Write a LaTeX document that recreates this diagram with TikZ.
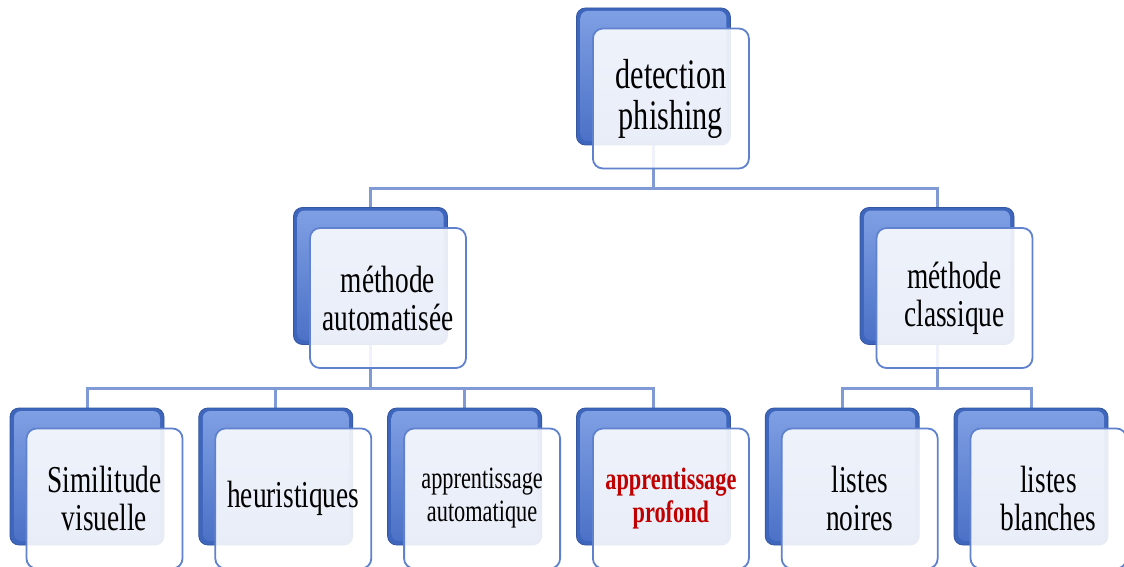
\documentclass[tikz,border=0pt]{standalone}
\usepackage{fontspec}
\newfontfamily\cond[FakeStretch=0.72]{Liberation Serif}
\usetikzlibrary{calc}
\definecolor{bblue}{RGB}{62,102,188}
\definecolor{blight}{RGB}{128,160,228}
\definecolor{bmid}{RGB}{74,112,198}
\definecolor{fborder}{RGB}{96,130,206}
\definecolor{connc}{RGB}{128,154,214}
\definecolor{redtxt}{RGB}{192,0,0}
\pgfdeclarelayer{bg}
\pgfsetlayers{bg,main}
\tikzset{
  backbox/.style={rectangle, rounded corners=9pt, minimum width=154pt, minimum height=137pt,
    inner sep=0pt, fill=bblue, draw=bblue!85!black, line width=0.8pt,
    path picture={\fill[rounded corners=7pt, top color=blight, bottom color=bmid]
      ([xshift=4pt,yshift=-3pt]path picture bounding box.north west) rectangle
      ([xshift=-4pt,yshift=4pt]path picture bounding box.south east);}},
  frontbox/.style={rectangle, rounded corners=10pt, minimum width=156pt, minimum height=140pt,
    inner sep=0pt, draw=fborder, line width=1.8pt, fill=white, fill opacity=0.88,
    text opacity=1, align=center, text=black},
  bigtxt/.style={font=\cond\fontsize{42}{41}\selectfont},
  midtxt/.style={font=\cond\fontsize{38}{38}\selectfont},
  smalltxt/.style={font=\cond\fontsize{31}{33}\selectfont},
  conn/.style={draw=connc, line width=3pt},
}
\begin{document}
\begin{tikzpicture}[x=1pt,y=-1pt]
\useasboundingbox (0,0) rectangle (1124,567);
% back boxes
\node[backbox] (topb) at (653.4,76.5) {};
\node[backbox] (mab) at (370.5,276) {};
\node[backbox] (mcb) at (937,276) {};
\node[backbox] (b1b) at (87,476.5) {};
\node[backbox] (b2b) at (275.8,476.5) {};
\node[backbox] (b3b) at (464.6,476.5) {};
\node[backbox] (b4b) at (653.4,476.5) {};
\node[backbox] (b5b) at (842.2,476.5) {};
\node[backbox] (b6b) at (1031,476.5) {};
% front boxes
\node[frontbox, bigtxt] (top) at ($(topb)+(17.5,22)$) {detection\\phishing};
\node[frontbox, midtxt] (ma) at ($(mab)+(17.5,22)$) {méthode\\automatisée};
\node[frontbox, midtxt] (mc) at ($(mcb)+(17.5,22)$) {méthode\\classique};
\node[frontbox, midtxt] (b1) at ($(b1b)+(17.5,22)$) {Similitude\\visuelle};
\node[frontbox, midtxt] (b2) at ($(b2b)+(17.5,22)$) {heuristiques};
\node[frontbox, smalltxt] (b3) at ($(b3b)+(17.5,22)$) {apprentissage\\automatique};
\node[frontbox, smalltxt, text=redtxt, font=\cond\bfseries\fontsize{31}{33}\selectfont] (b4) at ($(b4b)+(17.5,22)$) {apprentissage\\profond};
\node[frontbox, midtxt] (b5) at ($(b5b)+(17.5,22)$) {listes\\noires};
\node[frontbox, midtxt] (b6) at ($(b6b)+(17.5,22)$) {listes\\blanches};
% bus levels
\coordinate (busA) at (0,188);
\coordinate (busB) at (0,388.5);
\begin{pgfonlayer}{bg}
\fill[white] (0,0) rectangle (1124,567);
\draw[conn] (topb.south) -- (topb.south |- busA);
\draw[conn] (mab.north) -- (mab.north |- busA) -- (mcb.north |- busA) -- (mcb.north);
\draw[conn] (mab.south) -- (mab.south |- busB);
\draw[conn] (b1b.north) -- (b1b.north |- busB) -- (b4b.north |- busB) -- (b4b.north);
\draw[conn] (b2b.north) -- (b2b.north |- busB);
\draw[conn] (b3b.north) -- (b3b.north |- busB);
\draw[conn] (mcb.south) -- (mcb.south |- busB);
\draw[conn] (b5b.north) -- (b5b.north |- busB) -- (b6b.north |- busB) -- (b6b.north);
\end{pgfonlayer}
\end{tikzpicture}
\end{document}
